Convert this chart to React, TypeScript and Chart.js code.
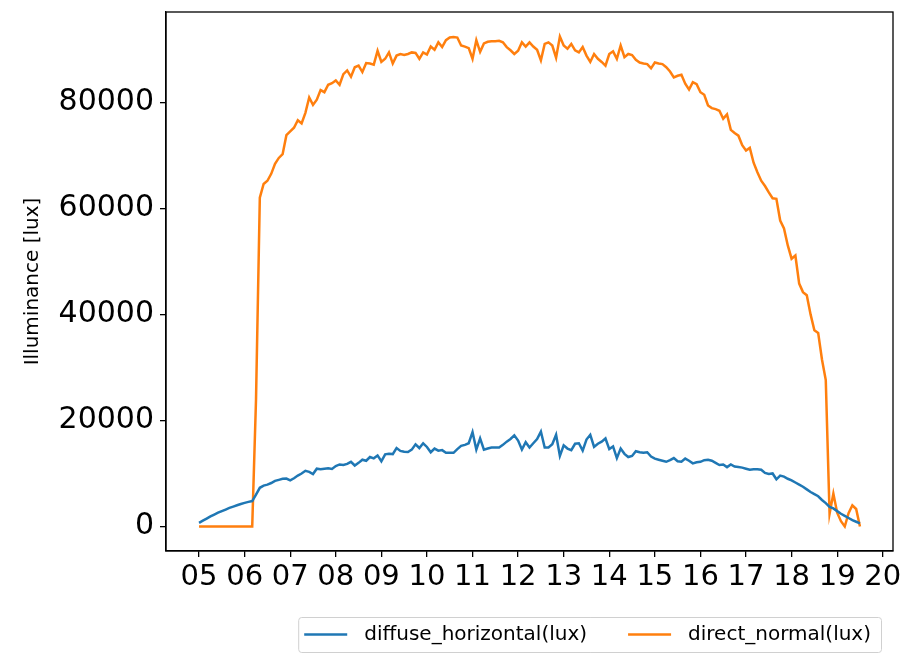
import React, { useEffect, useRef } from "react";
import { Chart, registerables } from "chart.js";

Chart.register(...registerables);

// time axis: samples every 5 minutes starting at 05:00
const START_HOUR = 5;
const STEP_MINUTES = 5;

const seriesNames = ["diffuse_horizontal(lux)", "direct_normal(lux)"];
const seriesColors = ["#1f77b4", "#ff7f0e"];

const diffuseHorizontal = [
  700, 1100, 1500, 1900, 2250, 2600, 2900, 3200, 3500, 3750,
  4000, 4250, 4450, 4650, 4800, 6000, 7300, 7700, 7900, 8200,
  8600, 8800, 9000, 9050, 8700, 9100, 9600, 10000, 10500, 10300,
  9900, 10900, 10800, 10900, 11000, 10850, 11400, 11700, 11600, 11800,
  12200, 11500, 12000, 12600, 12400, 13100, 12850, 13400, 12300, 13600,
  13700, 13650, 14800, 14250, 14100, 14050, 14500, 15500, 14800, 15700,
  15000, 14000, 14700, 14300, 14400, 13900, 13900, 13900, 14600, 15200,
  15400, 15700, 17800, 14500, 16600, 14500, 14700, 14900, 14900, 14900,
  15400, 16000, 16500, 17200, 16200, 14500, 15900, 14900, 15700, 16500,
  17900, 14900, 14900, 15500, 17300, 13300, 15300, 14700, 14400, 15600,
  15700, 14300, 16400, 17300, 15000, 15600, 16000, 16600, 14600, 15100,
  12900, 14700, 13700, 13100, 13300, 14200, 14000, 13900, 14000, 13200,
  12800, 12600, 12400, 12200, 12500, 12900, 12300, 12200, 12800, 12400,
  11900, 12100, 12200, 12500, 12600, 12400, 12000, 11600, 11700, 11200,
  11700, 11300, 11200, 11100, 10900, 10700, 10800, 10800, 10700, 10100,
  9900, 10000, 8900, 9600, 9400, 9000, 8700, 8300, 7900, 7500,
  7000, 6500, 6100, 5700, 5000, 4400, 3700, 3400, 2900, 2400,
  2000, 1600, 1200, 900, 600,
];

const directNormal = [
  0, 0, 0, 0, 0, 0, 0, 0, 0, 0,
  0, 0, 0, 0, 0, 24000, 62000, 64600, 65200, 66500,
  68400, 69500, 70200, 73800, 74500, 75200, 76600, 76000, 78000, 80900,
  79500, 80500, 82300, 81900, 83300, 83600, 84100, 83300, 85300, 86000,
  84800, 86600, 86900, 85700, 87400, 87300, 87100, 89700, 87600, 88200,
  89400, 87300, 88800, 89100, 88900, 89100, 89400, 89300, 88200, 89400,
  89000, 90500, 89900, 91300, 90400, 91700, 92200, 92300, 92200, 90700,
  90500, 90200, 88200, 91700, 89500, 91100, 91400, 91500, 91500, 91600,
  91300, 90400, 89800, 89100, 89700, 91300, 90500, 91300, 90500, 89900,
  87900, 91000, 91300, 90700, 88400, 92400, 90700, 90100, 91000, 89800,
  89400, 90400, 88800, 87600, 89100, 88200, 87600, 86900, 89100, 89600,
  88200, 90700, 88500, 89100, 88900, 88000, 87500, 87300, 87200, 86400,
  87500, 87300, 87200, 86600, 85800, 84700, 85000, 85200, 83500, 82400,
  83800, 83400, 81900, 81400, 79400, 78900, 78700, 78400, 76900, 77700,
  74800, 74200, 73700, 71900, 70900, 71400, 68600, 66800, 65200, 64200,
  63000, 61900, 61800, 57700, 56200, 53000, 50500, 51100, 45800, 44200,
  43600, 40000, 37000, 36500, 31500, 27600, 2400, 6200, 2600, 1000,
  0, 2500, 4000, 3300, 0,
];

const xTicks = [5, 6, 7, 8, 9, 10, 11, 12, 13, 14, 15, 16, 17, 18, 19, 20];
const xTickLabels = ["05", "06", "07", "08", "09", "10", "11", "12", "13", "14", "15", "16", "17", "18", "19", "20"];
const yTicks = [0, 20000, 40000, 60000, 80000];
const yTitle = "Illuminance [lux]";

const FONT = "'DejaVu Sans', sans-serif";

export default function App() {
  const ref = useRef<HTMLCanvasElement>(null);

  useEffect(() => {
    const times = diffuseHorizontal.map((_, i) => START_HOUR + (i * STEP_MINUTES) / 60);
    const series = [diffuseHorizontal, directNormal];

    const framePlugin = {
      id: "frameAndLegend",
      afterDraw(chart: any) {
        const { ctx, chartArea } = chart;
        ctx.save();
        ctx.strokeStyle = "#000";
        ctx.lineWidth = 1.3;
        ctx.strokeRect(chartArea.left, chartArea.top, chartArea.right - chartArea.left, chartArea.bottom - chartArea.top);

        // legend
        ctx.font = `20px ${FONT}`;
        const widths = seriesNames.map((n) => ctx.measureText(n).width);
        const handle = 43, hGap = 17, itemGap = 41, padL = 6, padR = 10, boxH = 35;
        const boxW = padL + handle + hGap + widths[0] + itemGap + handle + hGap + widths[1] + padR;
        const right = chartArea.right - 12;
        const left = right - boxW;
        const top = chartArea.bottom + 66;
        ctx.fillStyle = "rgba(255,255,255,0.8)";
        ctx.strokeStyle = "#d0d0d0";
        ctx.lineWidth = 1;
        ctx.beginPath();
        (ctx as any).roundRect(left + 0.5, top + 0.5, boxW, boxH, 3);
        ctx.fill();
        ctx.stroke();
        let x = left + padL;
        const cy = top + boxH / 2;
        seriesNames.forEach((name, i) => {
          ctx.strokeStyle = seriesColors[i];
          ctx.lineWidth = 2.5;
          ctx.beginPath();
          ctx.moveTo(x, cy);
          ctx.lineTo(x + handle, cy);
          ctx.stroke();
          x += handle + hGap;
          ctx.fillStyle = "#000";
          ctx.textBaseline = "middle";
          ctx.textAlign = "left";
          ctx.fillText(name, x, cy);
          x += widths[i] + itemGap;
        });
        ctx.restore();
      },
    };

    const chart = new Chart(ref.current!, {
      type: "line",
      data: {
        datasets: seriesNames.map((name, k) => ({
          label: name,
          data: times.map((t, i) => ({ x: t, y: series[k][i] })),
          borderColor: seriesColors[k],
          backgroundColor: seriesColors[k],
          borderWidth: 2.5,
          pointRadius: 0,
          fill: false,
          tension: 0,
        })),
      },
      options: {
        responsive: false,
        animation: false,
        layout: { padding: { left: 0, right: 10, top: 12, bottom: 0 } },
        plugins: { legend: { display: false }, tooltip: { enabled: false } },
        scales: {
          x: {
            type: "linear",
            min: 4.275,
            max: 20.225,
            afterBuildTicks: (a: any) => {
              a.ticks = xTicks.map((v) => ({ value: v }));
            },
            afterFit: (a: any) => {
              a.height = 105;
              a.paddingLeft = 0;
              a.paddingRight = 0;
            },
            ticks: {
              callback: (v: any) => xTickLabels[xTicks.indexOf(Number(v))],
              font: { family: FONT, size: 29 },
              color: "#000",
              padding: 3,
              maxRotation: 0,
              autoSkip: false,
            },
            grid: { display: true, drawOnChartArea: false, drawTicks: true, tickLength: 6, color: "#000", lineWidth: 1.3 },
            border: { display: true, color: "#000", width: 1.3 },
          },
          y: {
            type: "linear",
            min: -4620,
            max: 97020,
            afterBuildTicks: (a: any) => {
              a.ticks = yTicks.map((v) => ({ value: v }));
            },
            afterFit: (a: any) => {
              a.width = 166;
              a.paddingTop = 0;
              a.paddingBottom = 0;
            },
            ticks: {
              callback: (v: any) => String(v),
              font: { family: FONT, size: 30 },
              color: "#000",
              padding: 6,
              autoSkip: false,
            },
            title: {
              display: true,
              text: yTitle,
              font: { family: FONT, size: 20 },
              color: "#000",
              padding: { top: 21, bottom: 0 },
            },
            grid: { display: true, drawOnChartArea: false, drawTicks: true, tickLength: 6, color: "#000", lineWidth: 1.3 },
            border: { display: true, color: "#000", width: 1.3 },
          },
        },
      },
      plugins: [framePlugin],
    });
    return () => chart.destroy();
  }, []);

  return (
    <div style={{ position: "fixed", left: 0, top: 0, width: 903, height: 656, background: "#fff" }}>
      <canvas ref={ref} width={903} height={656} style={{ display: "block" }} />
    </div>
  );
}
